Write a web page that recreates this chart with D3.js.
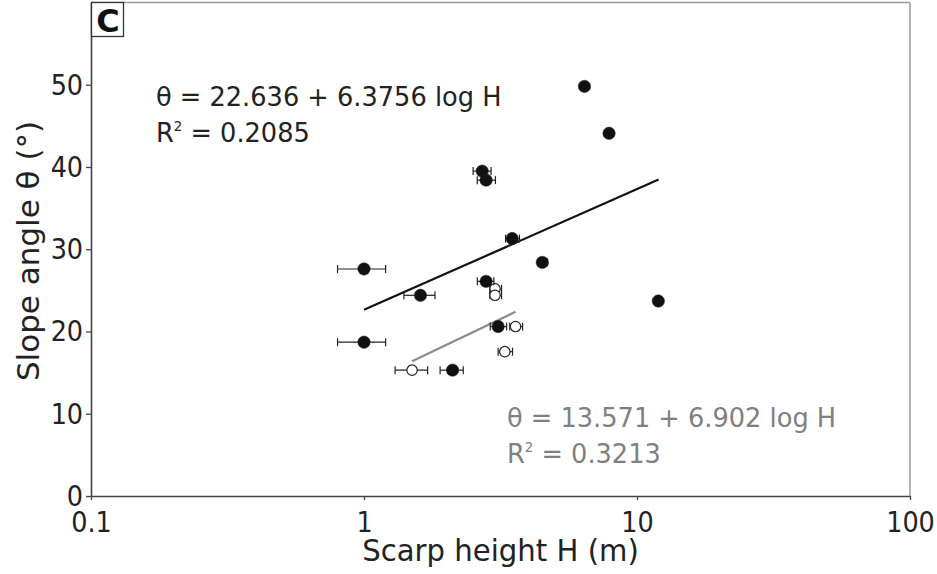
<!DOCTYPE html>
<html>
<head>
<meta charset="utf-8">
<script src="https://cdn.jsdelivr.net/npm/d3@7"></script>
<style>
  html, body { margin: 0; padding: 0; background: #fff; }
  svg text { font-family: "DejaVu Sans", Verdana, sans-serif; }
</style>
</head>
<body>
<svg id="chart" width="937" height="574"></svg>
<script>
// filled circles: scarp height, slope angle, error range on height
const filledH    = [1.0, 1.0, 1.61, 2.11, 2.71, 2.80, 2.80, 3.10, 3.49, 4.50, 6.42, 7.90, 11.97];
const filledAng  = [27.6, 18.7, 24.4, 15.3, 39.5, 38.4, 26.1, 20.6, 31.3, 28.4, 49.8, 44.1, 23.7];
const filledLow  = [0.8, 0.8, 1.40, 1.90, 2.51, 2.60, 2.60, 2.90, 3.30, 4.35, null, null, null];
const filledHigh = [1.2, 1.2, 1.82, 2.31, 2.92, 3.03, 2.99, 3.33, 3.71, 4.70, null, null, null];

// open circles
const openH    = [1.50, 3.02, 3.02, 3.59, 3.28];
const openAng  = [15.3, 25.2, 24.4, 20.6, 17.55];
const openLow  = [1.30, 2.89, 2.89, 3.42, 3.10];
const openHigh = [1.71, 3.19, 3.19, 3.81, 3.50];

// regression fits: theta = a + b * ln(H)
const fitFilled = { a: 22.636, b: 6.3756, from: 1.0, to: 12.0 };
const fitOpen   = { a: 13.571, b: 6.902, from: 1.5, to: 3.59 };

const xTicks = [0.1, 1, 10, 100];
const yTicks = [0, 10, 20, 30, 40, 50];

const eqFilled = ["θ = 22.636 + 6.3756 log H", "0.2085"];
const eqOpen   = ["θ = 13.571 + 6.902 log H", "0.3213"];

const svg = d3.select("#chart");
const margin = { left: 91, top: 2.5, right: 27, bottom: 78 };
const width = 937, height = 574;
const sx = 0.88; // glyphs in the figure are narrower than DejaVu

const x = d3.scaleLog().domain([0.1, 100]).range([margin.left, width - margin.right]);
const y = d3.scaleLinear().domain([0, 60]).range([height - margin.bottom, margin.top]);

// frame top/right
svg.append("line").attr("x1", x(0.1)).attr("x2", x(100)).attr("y1", y(60)).attr("y2", y(60))
  .attr("stroke", "#999").attr("stroke-width", 1.5);
svg.append("line").attr("x1", x(100)).attr("x2", x(100)).attr("y1", y(60)).attr("y2", y(0))
  .attr("stroke", "#999").attr("stroke-width", 1.5);

const xAxis = svg.append("g").attr("transform", `translate(0,${y(0)})`)
  .call(d3.axisBottom(x).tickValues(xTicks).tickSize(4).tickSizeOuter(0).tickPadding(11).tickFormat(d3.format("~g")));
const yAxis = svg.append("g").attr("transform", `translate(${x(0.1)},0)`)
  .call(d3.axisLeft(y).tickValues(yTicks).tickSize(5).tickSizeOuter(0).tickPadding(4));

[xAxis, yAxis].forEach(ax => {
  ax.select(".domain").attr("stroke", "#444").attr("stroke-width", 1.6);
  ax.selectAll(".tick line").attr("stroke", "#444").attr("stroke-width", 1.3);
  ax.selectAll("text").attr("transform", `scale(${sx},1)`)
    .style("font-size", "29px").attr("fill", "#222").style("font-family", "DejaVu Sans");
});

// axis titles
svg.append("text").attr("transform", `translate(${(x(0.1) + x(100)) / 2},561) scale(0.94,1)`)
  .attr("text-anchor", "middle").style("font-size", "31px").attr("fill", "#222")
  .text("Scarp height H (m)");
svg.append("text").attr("transform", `translate(39,251) rotate(-90)`)
  .attr("text-anchor", "middle").style("font-size", "31px").attr("fill", "#222")
  .text("Slope angle θ (°)");

// regression lines
const line = d3.line().x(d => x(d[0])).y(d => y(d[1]));
function fitPts(f) { return [f.from, f.to].map(h => [h, f.a + f.b * Math.log(h)]); }
svg.append("path").attr("d", line(fitPts(fitFilled))).attr("fill", "none")
  .attr("stroke", "#111").attr("stroke-width", 2.2);
svg.append("path").attr("d", line(fitPts(fitOpen))).attr("fill", "none")
  .attr("stroke", "#8c8c8c").attr("stroke-width", 2.2);

// error bars + markers
function drawSeries(hs, angs, lows, highs, filled) {
  const data = hs.map((h, i) => ({ h, a: angs[i], lo: lows[i], hi: highs[i] }));
  const g = svg.append("g");
  const eb = g.selectAll("g.eb").data(data.filter(d => d.lo != null)).join("g").attr("class", "eb")
    .attr("stroke", "#222").attr("stroke-width", 1.2);
  eb.append("line").attr("x1", d => x(d.lo)).attr("x2", d => x(d.hi)).attr("y1", d => y(d.a)).attr("y2", d => y(d.a));
  eb.append("line").attr("x1", d => x(d.lo)).attr("x2", d => x(d.lo)).attr("y1", d => y(d.a) - 4).attr("y2", d => y(d.a) + 4);
  eb.append("line").attr("x1", d => x(d.hi)).attr("x2", d => x(d.hi)).attr("y1", d => y(d.a) - 4).attr("y2", d => y(d.a) + 4);
  g.selectAll("circle").data(data).join("circle")
    .attr("cx", d => x(d.h)).attr("cy", d => y(d.a))
    .attr("r", filled ? 6.2 : 5.2)
    .attr("fill", filled ? "#111" : "#fff")
    .attr("stroke", "#222").attr("stroke-width", filled ? 0.5 : 1.2);
}
drawSeries(openH, openAng, openLow, openHigh, false);
drawSeries(filledH, filledAng, filledLow, filledHigh, true);

// equations
function equation(lines, tx, ty, color) {
  svg.append("text").attr("transform", `translate(${tx},${ty}) scale(0.95,1)`)
    .style("font-size", "27px").attr("fill", color).text(lines[0]);
  const t2 = svg.append("text").attr("transform", `translate(${tx},${ty + 36}) scale(0.95,1)`)
    .style("font-size", "27px").attr("fill", color);
  t2.append("tspan").text("R");
  t2.append("tspan").attr("dy", -11).style("font-size", "14px").text("2");
  t2.append("tspan").attr("dy", 11).text(" = " + lines[1]);
}
equation(eqFilled, 156, 106, "#222");
equation(eqOpen, 507, 427, "#808080");

// panel label
svg.append("rect").attr("x", 91.5).attr("y", 2.5).attr("width", 32).attr("height", 34)
  .attr("fill", "#fff").attr("stroke", "#333").attr("stroke-width", 1.3);
svg.append("text").attr("x", 108).attr("y", 32).attr("text-anchor", "middle")
  .style("font-size", "32px").style("font-weight", "bold").attr("fill", "#111").text("C");
</script>
</body>
</html>
